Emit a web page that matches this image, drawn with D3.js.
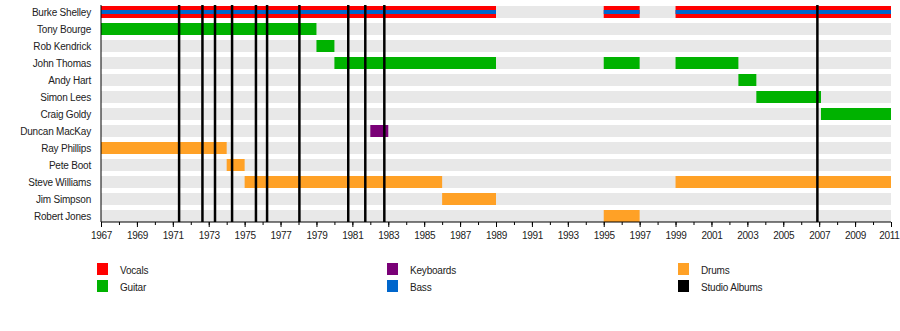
<!DOCTYPE html>
<html><head><meta charset="utf-8">
<script src="https://cdn.jsdelivr.net/npm/d3@7"></script>
<style>
body{margin:0;background:#fff;}
svg{display:block;font-family:"Liberation Sans",Arial,sans-serif;}
</style></head>
<body>
<svg id="chart" width="900" height="331"></svg>
<script>
const members = ["Burke Shelley","Tony Bourge","Rob Kendrick","John Thomas","Andy Hart","Simon Lees","Craig Goldy","Duncan MacKay","Ray Phillips","Pete Boot","Steve Williams","Jim Simpson","Robert Jones"];
const roles = ["Vocals","Guitar","Keyboards","Bass","Drums","Studio Albums"];
const roleColors = ["#ff0000","#00b200","#7a0077","#0066cc","#ffa126","#000000"];
// [member, start, end]
const vocalsSpans = [["Burke Shelley",1967,1989],["Burke Shelley",1995,1997],["Burke Shelley",1999,2011]];
const bassSpans = [["Burke Shelley",1967,1989],["Burke Shelley",1995,1997],["Burke Shelley",1999,2011]];
const guitarSpans = [["Tony Bourge",1967,1979],["Rob Kendrick",1979,1980],["John Thomas",1980,1989],["John Thomas",1995,1997],["John Thomas",1999,2002.5],["Andy Hart",2002.5,2003.5],["Simon Lees",2003.5,2007.1],["Craig Goldy",2007.1,2011]];
const keyboardSpans = [["Duncan MacKay",1982,1983]];
const drumSpans = [["Ray Phillips",1967,1974],["Pete Boot",1974,1975],["Steve Williams",1975,1986],["Steve Williams",1999,2011],["Jim Simpson",1986,1989],["Robert Jones",1995,1997]];
const albumYears = [1971.35,1972.65,1973.35,1974.3,1975.63,1976.25,1978.05,1980.77,1981.72,1982.78,2006.9];
const yearStart = 1967, yearEnd = 2011;
const tickYears = d3.range(1967, 2012, 2);

const svg = d3.select("#chart");
const x = d3.scaleLinear().domain([yearStart, yearEnd]).range([101, 891]);
const y = d3.scaleBand().domain(members).range([6, 222]).paddingInner(5/17).paddingOuter(0);
const bw = y.bandwidth();
const color = d3.scaleOrdinal().domain(roles).range(roleColors);

// background bands
svg.append("g").selectAll("rect").data(members).join("rect")
  .attr("x", x(yearStart)).attr("width", x(yearEnd)-x(yearStart))
  .attr("y", d=>y(d)).attr("height", bw).attr("fill","#e8e8e8");

function bars(data, role, frac0, frac1){
  svg.append("g").selectAll("rect").data(data).join("rect")
    .attr("x", d=>x(d[1])).attr("width", d=>x(d[2])-x(d[1]))
    .attr("y", d=>y(d[0]) + bw*frac0).attr("height", bw*(frac1-frac0))
    .attr("fill", color(role));
}
bars(vocalsSpans,"Vocals",0,1);
bars(bassSpans,"Bass",1/3,2/3);
bars(guitarSpans,"Guitar",0,1);
bars(keyboardSpans,"Keyboards",0,1);
bars(drumSpans,"Drums",0,1);

// album lines
svg.append("g").selectAll("line").data(albumYears).join("line")
  .attr("x1", d=>x(d)).attr("x2", d=>x(d))
  .attr("y1", 5).attr("y2", 222)
  .attr("stroke","#000").attr("stroke-width",2.5);

// left axis line
svg.append("line").attr("x1",x(yearStart)).attr("x2",x(yearStart)).attr("y1",5).attr("y2",222)
  .attr("stroke","#000").attr("stroke-width",1);

// member labels
svg.append("g").selectAll("text").data(members).join("text")
  .attr("x", 91).attr("y", d=>y(d)+bw/2).attr("dy","0.35em")
  .attr("text-anchor","end").attr("font-size",10).attr("fill","#222")
  .attr("letter-spacing","-0.2")
  .text(d=>d);

// x axis
const minor = svg.append("g").attr("transform","translate(0,222)")
  .call(d3.axisBottom(x).tickValues(d3.range(1967,2012,1)).tickSize(3).tickFormat(""));
minor.select(".domain").remove();
const major = svg.append("g").attr("transform","translate(0,222)")
  .call(d3.axisBottom(x).tickValues(tickYears).tickSize(5).tickPadding(5).tickFormat(d3.format("d")));
major.select(".domain").attr("stroke","#000").attr("d", `M${x(yearStart)},0H${x(yearEnd)}`);
major.selectAll("text").attr("font-size",10).attr("fill","#222")
  .attr("letter-spacing","-0.3")
  .attr("font-family","'Liberation Sans',Arial,sans-serif");
major.selectAll(".tick").filter(d=>d===yearEnd).select("text")
  .attr("text-anchor","end").attr("x", 8);

// legend
const legendItems = [
  {role:"Vocals", col:0, row:0},{role:"Guitar", col:0, row:1},
  {role:"Keyboards", col:1, row:0},{role:"Bass", col:1, row:1},
  {role:"Drums", col:2, row:0},{role:"Studio Albums", col:2, row:1}
];
const colX = [97, 387, 678];
const lg = svg.append("g").selectAll("g").data(legendItems).join("g")
  .attr("transform", d=>`translate(${colX[d.col]},${263 + d.row*17})`);
lg.append("rect").attr("width",11).attr("height",12).attr("fill", d=>color(d.role));
lg.append("text").attr("x",23).attr("y",7).attr("dy","0.35em").attr("font-size",10).attr("fill","#222")
  .attr("letter-spacing","-0.2").text(d=>d.role);
</script>
</body></html>
